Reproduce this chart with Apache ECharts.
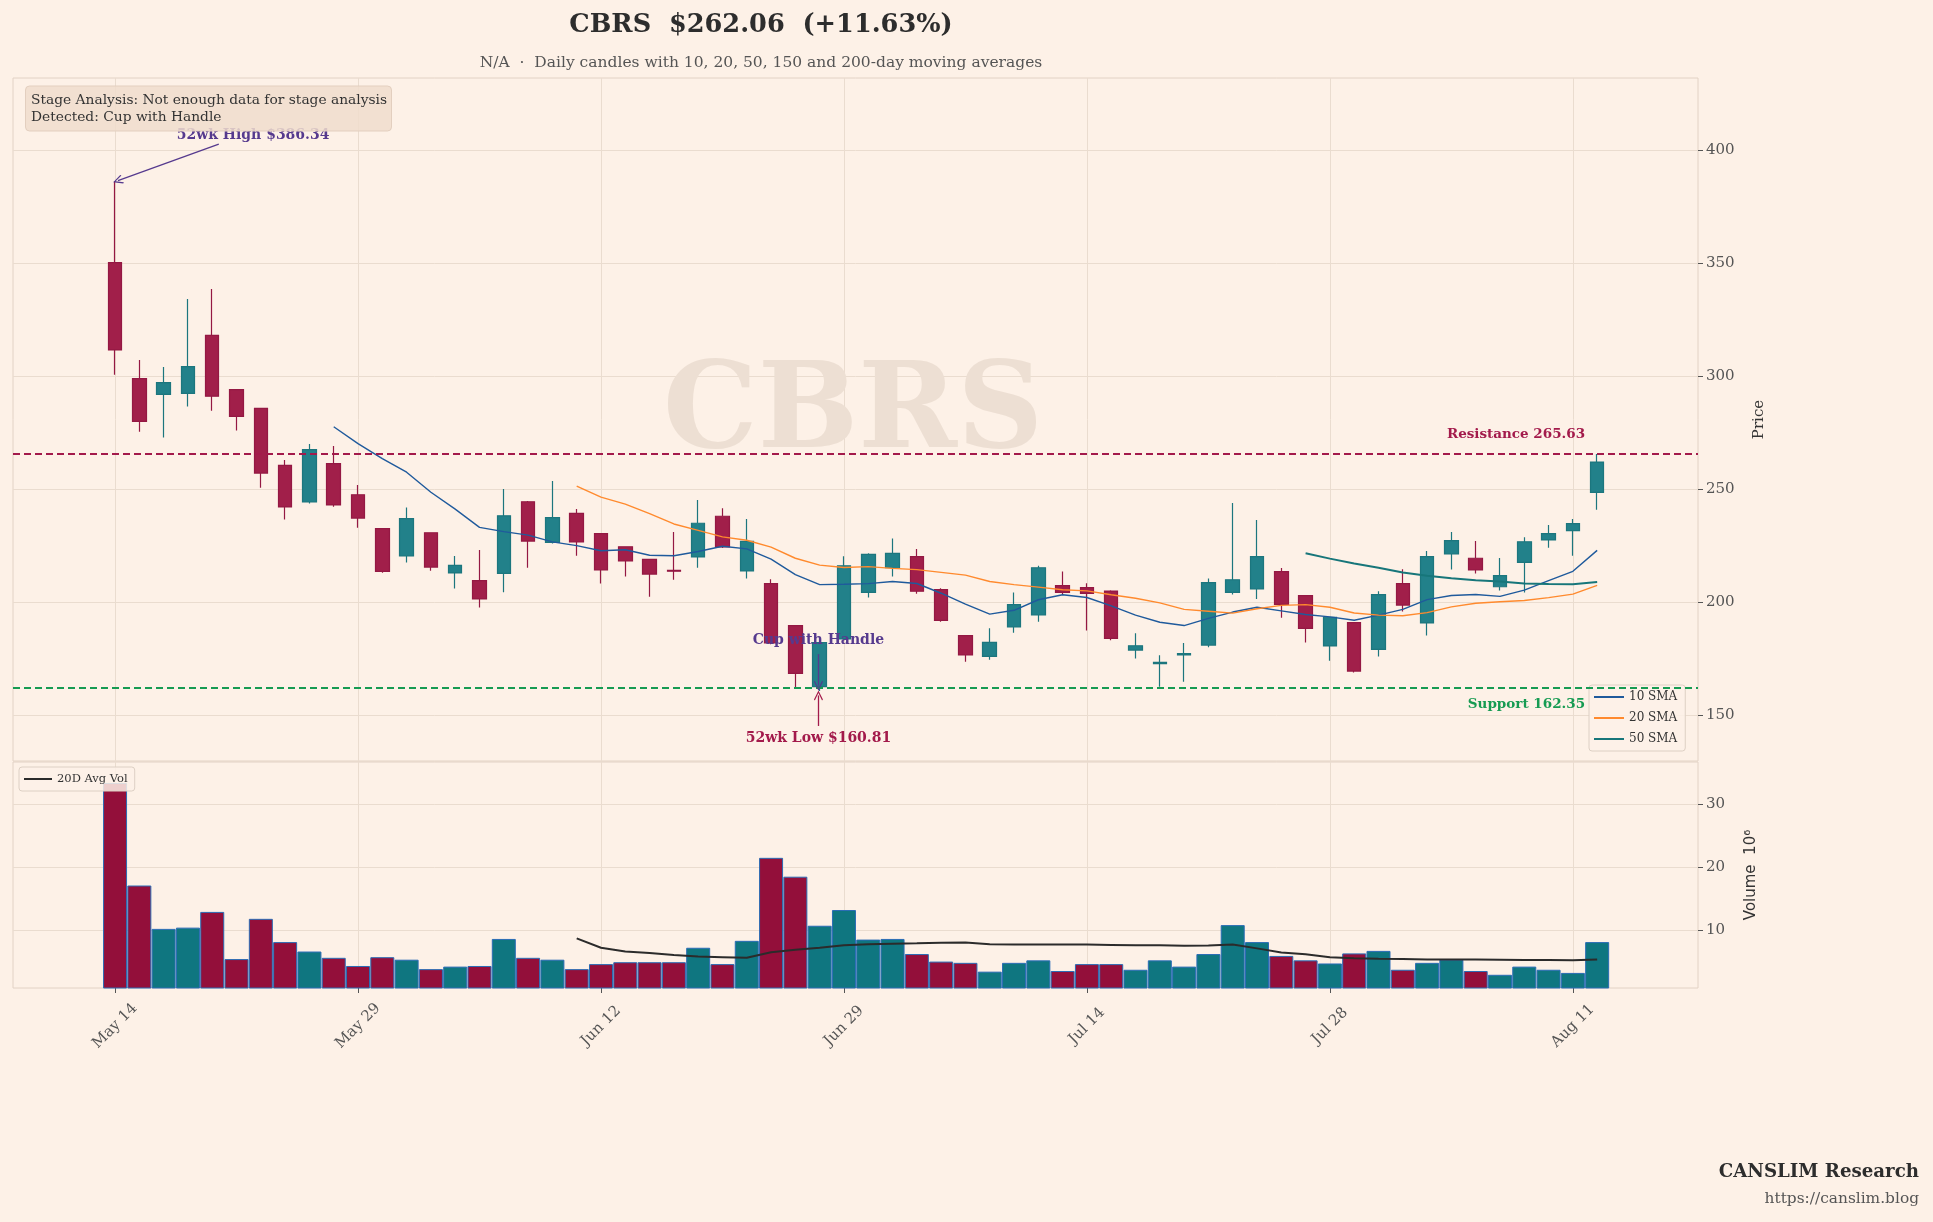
<!DOCTYPE html>
<html>
<head>
<meta charset="utf-8">
<script src="https://cdn.jsdelivr.net/npm/echarts@6/dist/echarts.min.js"></script>
<style>
html,body{margin:0;padding:0;background:#fdf1e7;}
#chart{width:1933px;height:1222px;}
</style>
</head>
<body>
<div id="chart"></div>
<script>
// ---------- DATA ----------
const dates = ["May 14","May 15","May 18","May 19","May 20","May 21","May 22","May 26","May 27","May 28",
  "May 29","Jun 1","Jun 2","Jun 3","Jun 4","Jun 5","Jun 8","Jun 9","Jun 10","Jun 11",
  "Jun 12","Jun 15","Jun 16","Jun 17","Jun 18","Jun 22","Jun 23","Jun 24","Jun 25","Jun 26",
  "Jun 29","Jun 30","Jul 1","Jul 2","Jul 6","Jul 7","Jul 8","Jul 9","Jul 10","Jul 13",
  "Jul 14","Jul 15","Jul 16","Jul 17","Jul 20","Jul 21","Jul 22","Jul 23","Jul 24","Jul 27",
  "Jul 28","Jul 29","Jul 30","Jul 31","Aug 3","Aug 4","Aug 5","Aug 6","Aug 7","Aug 10",
  "Aug 11","Aug 12"];

const opens = [350.3,299.0,292.0,292.5,318.1,294.1,285.8,260.6,244.4,261.4,
  247.6,232.6,220.5,230.8,213.0,209.6,212.8,244.5,226.5,239.4,
  230.4,224.6,219.0,214.2,220.1,238.1,213.9,208.3,189.7,162.7,
  183.8,204.4,215.3,220.2,205.6,185.3,176.1,189.1,194.4,207.4,
  206.5,205.0,178.9,172.9,176.8,181.1,204.4,205.9,213.6,203.0,
  180.7,191.0,179.2,208.3,190.9,221.4,219.5,206.9,217.7,227.6,
  231.7,248.7];

const highs = [386.34,307.2,304.1,334.2,338.6,294.3,286.0,263.0,270.1,269.2,
  251.9,232.7,242.0,230.9,220.5,223.2,250.1,244.8,253.7,241.3,
  230.5,224.8,219.1,231.1,245.3,241.6,236.9,210.2,189.8,182.5,
  220.4,221.7,228.3,223.6,206.2,185.4,188.5,204.4,216.2,213.7,
  208.4,205.3,186.3,176.6,182.0,210.6,244.0,236.4,215.2,203.1,
  193.5,191.1,204.9,214.6,222.7,231.1,227.1,219.6,228.8,234.2,
  236.9,265.63];

const lows = [300.7,275.5,272.9,286.6,284.8,276.0,250.7,236.6,243.7,242.3,
  233.0,213.1,217.6,214.0,206.1,197.7,204.5,215.3,226.0,220.6,
  208.3,211.4,202.5,210.0,215.3,224.0,210.5,181.5,162.0,160.81,
  183.5,202.1,211.4,203.8,191.4,173.7,174.6,186.6,191.4,203.7,
  187.5,183.2,175.1,162.7,164.9,180.1,203.5,201.5,193.2,182.2,
  174.2,169.0,176.0,195.9,185.3,214.5,212.8,205.2,204.4,224.2,
  220.6,241.0];

const closes = [311.7,280.1,297.2,304.3,291.2,282.3,257.2,242.2,267.6,243.1,
  237.3,213.7,237.0,215.6,216.4,201.5,238.3,227.1,237.5,226.7,
  214.3,218.3,212.5,213.8,235.0,224.5,227.0,182.0,168.6,182.2,
  216.2,221.2,221.7,204.9,192.0,176.7,182.3,199.0,215.3,204.4,
  204.0,184.1,180.8,173.4,177.3,208.7,210.0,220.2,199.1,188.5,
  193.4,169.6,203.4,198.8,220.2,227.3,214.3,211.8,226.8,230.4,
  234.8,262.06];

// volume in millions
const volumes = [33.4,17.1,10.2,10.4,12.9,5.4,11.8,8.1,6.6,5.6,
  4.3,5.7,5.3,3.8,4.2,4.3,8.6,5.6,5.3,3.8,
  4.6,4.9,4.9,4.9,7.2,4.6,8.3,21.5,18.5,10.7,
  13.2,8.5,8.6,6.2,5.0,4.8,3.4,4.8,5.2,3.5,
  4.6,4.6,3.7,5.2,4.2,6.2,10.8,8.1,5.9,5.2,
  4.7,6.3,6.7,3.7,4.8,5.3,3.5,2.9,4.2,3.7,
  3.2,8.1];

const sma10 = [null,null,null,null,null,null,null,null,null,277.69,
  270.25,263.61,257.59,248.72,241.24,233.16,231.27,229.76,226.75,225.11,
  222.81,223.27,220.82,220.64,222.50,224.80,223.67,219.16,212.27,207.82,
  208.01,208.30,209.22,208.33,204.03,199.25,194.78,196.48,201.15,203.37,
  202.15,198.44,194.35,191.20,189.73,192.93,195.70,197.82,196.20,194.61,
  193.55,192.10,194.36,196.90,201.19,203.05,203.48,202.64,205.41,209.60,
  213.74,222.99];

const sma20 = [null,null,null,null,null,null,null,null,null,null,
  null,null,null,null,null,null,null,null,null,251.40,
  246.53,243.44,239.21,234.68,231.87,228.98,227.47,224.46,219.51,216.47,
  215.41,215.79,215.02,214.49,213.27,212.03,209.23,207.82,206.71,205.60,
  205.08,203.37,201.79,199.77,196.88,196.09,195.24,197.15,198.68,198.99,
  197.85,195.27,194.36,194.05,195.46,197.99,199.59,200.23,200.81,202.11,
  203.65,207.54];

const sma50 = [null,null,null,null,null,null,null,null,null,null,
  null,null,null,null,null,null,null,null,null,null,
  null,null,null,null,null,null,null,null,null,null,
  null,null,null,null,null,null,null,null,null,null,
  null,null,null,null,null,null,null,null,null,221.72,
  219.35,217.14,215.27,213.16,211.74,210.64,209.78,209.17,208.36,208.10,
  208.05,209.02];

const avgVol20 = [null,null,null,null,null,null,null,null,null,null,
  null,null,null,null,null,null,null,null,null,8.7,
  7.2,6.6,6.35,6.05,5.8,5.7,5.6,6.5,6.9,7.2,
  7.6,7.75,7.85,7.9,8.0,8.05,7.75,7.7,7.7,7.7,
  7.7,7.65,7.6,7.6,7.5,7.55,7.7,7.1,6.45,6.15,
  5.7,5.55,5.45,5.4,5.35,5.35,5.35,5.3,5.25,5.25,
  5.2,5.35];

const xTickIdx = [0,10,20,30,40,50,60];
const priceTicks = [150,200,250,300,350,400];
const volTicks = [10,20,30];

const resistance = 265.63;
const support = 162.35;
const high52 = 386.34;
const low52 = 160.81;

// ---------- STYLE ----------
const FONT = 'DejaVu Serif';
const BG = '#fdf1e7';
const GRIDC = '#eadccf';
const BORDERC = '#e2d2c5';
const UP = '#22818a', UPB = '#1c767e';
const DN = '#a11f4a', DNB = '#941843';
const VUP = '#0f7680', VDN = '#930f3a', VEDGE = '#2a6cb5';
const RES = '#a31a4b', SUP = '#169b52';
const PURPLE = '#563a8e';

const chart = echarts.init(document.getElementById('chart'));

const candleData = dates.map((d, i) => [i, opens[i], closes[i], lows[i], highs[i]]);
const volData = volumes.map((v, i) => [i, v]);
const toLine = arr => arr.map((v, i) => [i, v]).filter(p => p[1] != null);

const arrowSym = 'path://M5,0 L10,9 L9,10 L5,2.6 L1,10 L0,9 Z';

const xBase = {
  type: 'value', min: -4.2, max: 65.15,
  axisLine: { show: false, onZero: false },
  splitLine: { show: true, lineStyle: { color: GRIDC, width: 1 } }
};

const option = {
  animation: false,
  backgroundColor: BG,
  textStyle: { fontFamily: FONT },
  grid: [
    { left: 13, right: 235, top: 78, height: 683, show: true, borderColor: BORDERC, borderWidth: 1, backgroundColor: 'transparent' },
    { left: 13, right: 235, top: 762, height: 226, show: true, borderColor: BORDERC, borderWidth: 1, backgroundColor: 'transparent' }
  ],
  xAxis: [
    Object.assign({}, xBase, {
      gridIndex: 0,
      axisTick: { show: false, customValues: xTickIdx },
      axisLabel: { show: false, customValues: xTickIdx }
    }),
    Object.assign({}, xBase, {
      gridIndex: 1,
      axisTick: { show: true, customValues: xTickIdx, length: 5, lineStyle: { color: '#555' } },
      axisLabel: {
        show: true, customValues: xTickIdx,
        formatter: v => dates[Math.round(v)],
        rotate: 45, align: 'center', verticalAlign: 'middle', margin: 38,
        color: '#555', fontSize: 15, fontFamily: FONT
      }
    })
  ],
  yAxis: [
    {
      gridIndex: 0, type: 'value', position: 'right', min: 129.8, max: 432,
      axisLine: { show: false, onZero: false },
      axisTick: { show: true, customValues: priceTicks, length: 5, lineStyle: { color: '#555' } },
      axisLabel: { customValues: priceTicks, color: '#555', fontSize: 15, margin: 8, fontFamily: FONT },
      splitLine: { show: true, lineStyle: { color: GRIDC } },
      name: 'Price', nameLocation: 'middle', nameRotate: 90, nameGap: 54,
      nameTextStyle: { color: '#333', fontSize: 15, fontFamily: FONT }
    },
    {
      gridIndex: 1, type: 'value', position: 'right', min: 0.8, max: 36.74,
      axisLine: { show: false, onZero: false },
      axisTick: { show: true, customValues: volTicks, length: 5, lineStyle: { color: '#555' } },
      axisLabel: { customValues: volTicks, color: '#555', fontSize: 15, margin: 8, fontFamily: FONT },
      splitLine: { show: true, lineStyle: { color: GRIDC } },
      name: 'Volume  10⁶', nameLocation: 'middle', nameRotate: 90, nameGap: 46,
      nameTextStyle: { color: '#333', fontSize: 15, fontFamily: 'DejaVu Sans' }
    }
  ],
  legend: [
    {
      data: ['10 SMA', '20 SMA', '50 SMA'],
      orient: 'vertical', left: 1589, top: 685,
      icon: 'rect', itemWidth: 30, itemHeight: 2, itemGap: 9,
      padding: [6, 8, 6, 5],
      backgroundColor: 'rgba(253,241,231,0.85)', borderColor: '#ddd0c4', borderWidth: 1, borderRadius: 3,
      textStyle: { color: '#333', fontSize: 12, fontFamily: FONT }
    },
    {
      data: ['20D Avg Vol'],
      orient: 'vertical', left: 19, top: 767,
      icon: 'rect', itemWidth: 28, itemHeight: 2,
      padding: [6, 7, 6, 5],
      backgroundColor: 'rgba(253,241,231,0.85)', borderColor: '#ddd0c4', borderWidth: 1, borderRadius: 3,
      textStyle: { color: '#333', fontSize: 11.5, fontFamily: FONT }
    }
  ],
  series: [
    {
      name: 'Price', type: 'candlestick', xAxisIndex: 0, yAxisIndex: 0,
      data: candleData, encode: { x: 0, y: [1, 2, 3, 4] },
      barWidth: 14,
      itemStyle: { color: UP, color0: DN, borderColor: UPB, borderColor0: DNB, borderWidth: 1.2 },
      markLine: {
        silent: true, symbol: ['none', 'none'], animation: false,
        label: { show: false },
        data: [
          { yAxis: resistance, lineStyle: { color: RES, type: [7, 4], width: 1.8 } },
          { yAxis: support, lineStyle: { color: SUP, type: [7, 4], width: 1.8 } },
          [ { coord: [4.27, 402.7], symbol: 'none', lineStyle: { color: PURPLE, width: 1.3, type: 'solid' } },
            { coord: [0.12, high52 + 0.3], symbol: arrowSym, symbolSize: [9, 10], itemStyle: { color: PURPLE } } ],
          [ { coord: [28.95, 145.3], symbol: 'none', lineStyle: { color: RES, width: 1.3, type: 'solid' } },
            { coord: [28.95, low52 - 2.0], symbol: arrowSym, symbolSize: [9, 10], itemStyle: { color: RES } } ],
          [ { coord: [28.95, 177.1], symbol: 'none', lineStyle: { color: PURPLE, width: 1.3, type: 'solid' } },
            { coord: [28.95, 163.1], symbol: arrowSym, symbolSize: [9, 10], itemStyle: { color: PURPLE } } ]
        ]
      },
      markPoint: {
        silent: true, symbol: 'circle', symbolSize: 0, animation: false,
        label: { show: true, position: 'inside', fontFamily: FONT, fontWeight: 'bold', fontSize: 14 },
        data: [
          { coord: [5.68, 406.8], label: { formatter: '52wk High $386.34', color: PURPLE } },
          { coord: [28.95, 139.8], label: { formatter: '52wk Low $160.81', color: RES } },
          { coord: [28.95, 183.3], label: { formatter: 'Cup with Handle', color: PURPLE } },
          { coord: [60.5, 274.3], label: { formatter: 'Resistance 265.63', color: RES, align: 'right', fontSize: 13.5 } },
          { coord: [60.5, 155.0], label: { formatter: 'Support 162.35', color: SUP, align: 'right', fontSize: 13.5 } }
        ]
      }
    },
    {
      name: '10 SMA', type: 'line', xAxisIndex: 0, yAxisIndex: 0, data: toLine(sma10),
      symbol: 'none', color: '#1f5a9c', lineStyle: { width: 1.4 }, z: 3
    },
    {
      name: '20 SMA', type: 'line', xAxisIndex: 0, yAxisIndex: 0, data: toLine(sma20),
      symbol: 'none', color: '#ff8a2e', lineStyle: { width: 1.4 }, z: 3
    },
    {
      name: '50 SMA', type: 'line', xAxisIndex: 0, yAxisIndex: 0, data: toLine(sma50),
      symbol: 'none', color: '#17767a', lineStyle: { width: 2 }, z: 3
    },
    {
      name: 'Volume', type: 'bar', xAxisIndex: 1, yAxisIndex: 1, data: volData,
      barWidth: 24,
      itemStyle: {
        color: p => closes[p.dataIndex] >= opens[p.dataIndex] ? VUP : VDN,
        borderColor: VEDGE, borderWidth: 1
      }
    },
    {
      name: '20D Avg Vol', type: 'line', xAxisIndex: 1, yAxisIndex: 1, data: toLine(avgVol20),
      symbol: 'none', color: '#2b2b2b', lineStyle: { width: 2 }, z: 4
    }
  ],
  graphic: [
    { type: 'text', x: 853, y: 416, z: 1, silent: true,
      style: { text: 'CBRS', fontFamily: FONT, fontWeight: 'bold', fontSize: 119, fill: '#eddfd3',
        align: 'center', verticalAlign: 'middle', textAlign: 'center', textVerticalAlign: 'middle' } },
    { type: 'text', x: 761, y: 25, z: 10,
      style: { text: 'CBRS  $262.06  (+11.63%)', fontFamily: FONT, fontWeight: 'bold', fontSize: 25.6, fill: '#2d2d2d',
        align: 'center', verticalAlign: 'middle', textAlign: 'center', textVerticalAlign: 'middle' } },
    { type: 'text', x: 761, y: 63, z: 10,
      style: { text: 'N/A  ·  Daily candles with 10, 20, 50, 150 and 200-day moving averages', fontFamily: FONT, fontSize: 15.5, fill: '#555',
        align: 'center', verticalAlign: 'middle', textAlign: 'center', textVerticalAlign: 'middle' } },
    { type: 'rect', z: 100, shape: { x: 25.5, y: 86, width: 366, height: 45, r: 4 },
      style: { fill: 'rgba(240,221,204,0.85)', stroke: '#e3cfbf', lineWidth: 1 } },
    { type: 'text', x: 31, y: 100, z: 101,
      style: { text: 'Stage Analysis: Not enough data for stage analysis', fontFamily: FONT, fontSize: 13.8, fill: '#333',
        align: 'left', verticalAlign: 'middle', textAlign: 'left', textVerticalAlign: 'middle' } },
    { type: 'text', x: 31, y: 117, z: 101,
      style: { text: 'Detected: Cup with Handle', fontFamily: FONT, fontSize: 13.8, fill: '#333',
        align: 'left', verticalAlign: 'middle', textAlign: 'left', textVerticalAlign: 'middle' } },
    { type: 'text', x: 1919, y: 1172, z: 10,
      style: { text: 'CANSLIM Research', fontFamily: FONT, fontWeight: 'bold', fontSize: 18.2, fill: '#2d2d2d',
        align: 'right', verticalAlign: 'middle', textAlign: 'right', textVerticalAlign: 'middle' } },
    { type: 'text', x: 1919, y: 1199, z: 10,
      style: { text: 'https://canslim.blog', fontFamily: FONT, fontSize: 15.4, fill: '#555',
        align: 'right', verticalAlign: 'middle', textAlign: 'right', textVerticalAlign: 'middle' } }
  ]
};

chart.setOption(option);
</script>
</body>
</html>
